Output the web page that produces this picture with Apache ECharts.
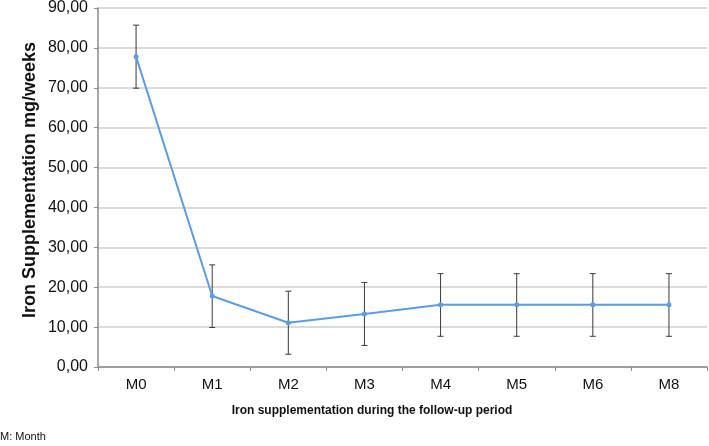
<!DOCTYPE html>
<html>
<head>
<meta charset="utf-8">
<script src="https://cdn.jsdelivr.net/npm/echarts@6/dist/echarts.min.js"></script>
<style>
  html, body { margin: 0; padding: 0; background: #fff; }
  #chart { width: 709px; height: 446px; }
</style>
</head>
<body>
<div id="chart"></div>
<script>
// data
const months = ['M0', 'M1', 'M2', 'M3', 'M4', 'M5', 'M6', 'M8']
const meanValues = [77.8, 17.8, 11.1, 13.3, 15.6, 15.6, 15.6, 15.6]
const lowerValues = [69.9, 9.9, 3.2, 5.4, 7.7, 7.7, 7.7, 7.7]
const upperValues = [85.7, 25.6, 19.0, 21.2, 23.4, 23.4, 23.4, 23.4]

const font = 'Arial, "Liberation Sans", Helvetica, sans-serif'

const chart = echarts.init(document.getElementById('chart'))

const errorData = months.map((m, i) => [i, lowerValues[i], upperValues[i]])

// draw error bars with caps
const renderError = (params, api) => {
  const x = api.value(0)
  const low = api.coord([x, api.value(1)])
  const high = api.coord([x, api.value(2)])
  const cap = 3
  const style = { stroke: '#3a3a3a', lineWidth: 1 }
  return {
    type: 'group',
    children: [
      { type: 'line', shape: { x1: low[0], y1: low[1], x2: high[0], y2: high[1] }, style },
      { type: 'line', shape: { x1: high[0] - cap, y1: high[1], x2: high[0] + cap, y2: high[1] }, style },
      { type: 'line', shape: { x1: low[0] - cap, y1: low[1], x2: low[0] + cap, y2: low[1] }, style }
    ]
  }
}

const option = {
  animation: false,
  grid: { left: 98, right: 2, top: 7, bottom: 79 },
  xAxis: {
    type: 'category',
    data: months,
    boundaryGap: true,
    axisLine: { lineStyle: { color: '#8c8c8c', width: 1.5 } },
    axisTick: { show: true, length: 4, lineStyle: { color: '#8c8c8c' } },
    axisLabel: { color: '#111', fontSize: 15, fontFamily: font, margin: 10 }
  },
  yAxis: {
    type: 'value',
    min: 0,
    max: 90,
    interval: 10,
    axisLine: { show: true, lineStyle: { color: '#8c8c8c', width: 1.5 } },
    axisTick: { show: true, length: 4, lineStyle: { color: '#8c8c8c' } },
    axisLabel: {
      color: '#111',
      fontSize: 16,
      fontFamily: font,
      margin: 10,
      formatter: v => v.toFixed(2).replace('.', ',')
    },
    splitLine: { lineStyle: { color: '#cfcfcf', width: 1.5 } }
  },
  graphic: [
    {
      type: 'text',
      x: 30,
      y: 180,
      rotation: Math.PI / 2,
      style: {
        text: 'Iron Supplementation mg/weeks',
        font: 'bold 18px ' + font,
        fill: '#111',
        align: 'center',
        verticalAlign: 'middle'
      }
    },
    {
      type: 'text',
      x: 372,
      y: 411,
      style: {
        text: 'Iron supplementation during the follow-up period',
        font: 'bold 12px ' + font,
        fill: '#111',
        align: 'center',
        verticalAlign: 'middle'
      }
    },
    {
      type: 'text',
      x: 0,
      y: 437,
      style: {
        text: 'M: Month',
        font: '11px ' + font,
        fill: '#111',
        align: 'left',
        verticalAlign: 'middle'
      }
    }
  ],
  series: [
    {
      type: 'line',
      data: meanValues,
      symbol: 'circle',
      symbolSize: 5,
      lineStyle: { color: '#5b9de1', width: 2 },
      itemStyle: { color: '#5b9de1' },
      z: 3
    },
    {
      type: 'custom',
      data: errorData,
      renderItem: renderError,
      z: 2
    }
  ]
}

chart.setOption(option)
</script>
</body>
</html>
